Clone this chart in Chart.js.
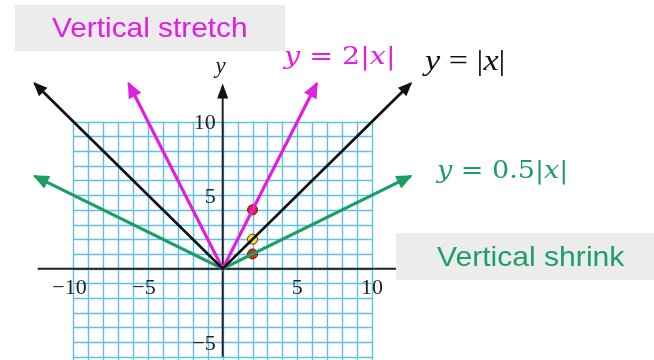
<!DOCTYPE html>
<html>
<head>
<meta charset="utf-8">
<script src="https://cdn.jsdelivr.net/npm/chart.js@4"></script>
<style>
  html, body { margin: 0; padding: 0; background: #fff; }
  #wrap { width: 654px; height: 360px; }
</style>
</head>
<body>
<div id="wrap"><canvas id="graph" width="654" height="360"></canvas></div>
<script>
// y = |x|
var absX = [-12.6, 0, 12.6];
var absY = [12.6, 0, 12.6];
// y = 2|x|
var stretchX = [-6.3, 0, 6.3];
var stretchY = [12.6, 0, 12.6];
// y = 0.5|x|
var shrinkX = [-12.6, 0, 12.6];
var shrinkY = [6.3, 0, 6.3];
// marked points at x = 2
var dotX = [2, 2, 2];
var dotY = [4, 2, 1];
var dotColors = ["#e3221b", "#f2ee1e", "#e3221b"];

// grid paper and axes
var gridMin = -10, gridMax = 10;
var xAxisRange = [-12.4, 12];
var yAxisRange = [-6, 12.6];
var xTicks = [-10, -5, 5, 10];
var yTicks = [10, 5, -5];

function pts(xs, ys) {
  return xs.map(function (x, i) { return { x: x, y: ys[i] }; });
}

// grid, axes and tick labels go under the lines
var paperPlugin = {
  id: 'paper',
  beforeDatasetsDraw: function (chart) {
    var ctx = chart.ctx, sx = chart.scales.x, sy = chart.scales.y;
    ctx.save();
    ctx.strokeStyle = "#62c0e5";
    ctx.lineWidth = 1.4;
    for (var i = gridMin; i <= gridMax; i++) {
      var px = Math.round(sx.getPixelForValue(i)) + 0.5;
      ctx.beginPath();
      ctx.moveTo(px, sy.getPixelForValue(gridMax));
      ctx.lineTo(px, sy.getPixelForValue(gridMin));
      ctx.stroke();
      var py = Math.round(sy.getPixelForValue(i)) + 0.5;
      ctx.beginPath();
      ctx.moveTo(sx.getPixelForValue(gridMin), py);
      ctx.lineTo(sx.getPixelForValue(gridMax), py);
      ctx.stroke();
    }
    // axes
    var ox = sx.getPixelForValue(0), oy = sy.getPixelForValue(0);
    ctx.strokeStyle = "#222";
    ctx.lineWidth = 2;
    ctx.beginPath();
    ctx.moveTo(sx.getPixelForValue(xAxisRange[0]), oy);
    ctx.lineTo(sx.getPixelForValue(xAxisRange[1]), oy);
    ctx.moveTo(ox, sy.getPixelForValue(yAxisRange[0]));
    ctx.lineTo(ox, sy.getPixelForValue(yAxisRange[1]) + 10);
    ctx.stroke();
    var tip = sy.getPixelForValue(yAxisRange[1]);
    ctx.fillStyle = "#111";
    ctx.beginPath();
    ctx.moveTo(ox, tip);
    ctx.lineTo(ox - 5.5, tip + 15);
    ctx.lineTo(ox + 5.5, tip + 15);
    ctx.closePath();
    ctx.fill();
    // tick labels
    ctx.font = "22px 'Liberation Serif'";
    ctx.fillStyle = "#222";
    ctx.textBaseline = "middle";
    ctx.textAlign = "center";
    xTicks.forEach(function (v) {
      var t = (v < 0 ? "\u2212" : "") + Math.abs(v);
      ctx.fillText(t, sx.getPixelForValue(v) - (v < 0 ? 4 : 0), oy + 20);
    });
    ctx.textAlign = "right";
    yTicks.forEach(function (v) {
      var t = (v < 0 ? "\u2212" : "") + Math.abs(v);
      ctx.fillText(t, ox - 7, sy.getPixelForValue(v) + 2);
    });
    // axis name
    ctx.font = "italic 23px 'Liberation Serif'";
    ctx.textAlign = "center";
    ctx.fillText("y", ox - 2, tip - 17);
    ctx.restore();
  }
};

// arrowheads at both ends of each V
var arrowPlugin = {
  id: 'arrows',
  afterDatasetsDraw: function (chart) {
    var ctx = chart.ctx;
    chart.data.datasets.forEach(function (ds, di) {
      if (!ds.arrow) return;
      var els = chart.getDatasetMeta(di).data;
      [[1, 0], [1, 2]].forEach(function (pair) {
        var a = els[pair[0]], b = els[pair[1]];
        var ang = Math.atan2(b.y - a.y, b.x - a.x);
        var len = ds.arrow, wid = ds.arrow * 0.5;
        ctx.save();
        ctx.translate(b.x, b.y);
        ctx.rotate(ang);
        ctx.fillStyle = ds.borderColor;
        ctx.beginPath();
        ctx.moveTo(2, 0);
        ctx.lineTo(-len, -wid);
        ctx.lineTo(-len, wid);
        ctx.closePath();
        ctx.fill();
        ctx.restore();
      });
    });
  }
};

// math label: italic letters, upright rest, stretched sideways by sx
function runs(ctx, x, y, parts, color, font, sx) {
  ctx.save();
  ctx.translate(x, y);
  ctx.scale(sx, 1);
  ctx.fillStyle = color;
  var cx = 0;
  parts.forEach(function (p) {
    ctx.font = (p[1] ? "italic " : "") + font;
    ctx.fillText(p[0], cx, 0);
    cx += ctx.measureText(p[0]).width;
  });
  ctx.restore();
}

function wideText(ctx, text, x, y, sx) {
  ctx.save();
  ctx.translate(x, y);
  ctx.scale(sx, 1);
  ctx.fillText(text, 0, 0);
  ctx.restore();
}

// labels and grey boxes on top
var notesPlugin = {
  id: 'notes',
  afterDraw: function (chart) {
    var ctx = chart.ctx;
    ctx.save();
    ctx.fillStyle = "#ececec";
    ctx.fillRect(15, 5, 270, 46);
    ctx.fillRect(396, 233, 258, 47);
    ctx.textBaseline = "middle";
    ctx.textAlign = "left";
    ctx.font = "28px 'Liberation Sans'";
    ctx.fillStyle = "#e21ee2";
    wideText(ctx, "Vertical stretch", 52, 29, 1.065);
    ctx.fillStyle = "#1c9e66";
    wideText(ctx, "Vertical shrink", 437, 258, 1.075);
    runs(ctx, 284, 57, [["y", true], [" = 2|", false], ["x", true], ["|", false]], "#e21ee2", "25px 'DejaVu Serif'", 1.14);
    runs(ctx, 425, 62, [["y", true], [" = |", false], ["x", true], ["|", false]], "#111", "30px 'Liberation Serif'", 1.14);
    runs(ctx, 437, 171, [["y", true], [" = 0.5|", false], ["x", true], ["|", false]], "#1c9e66", "25px 'DejaVu Serif'", 1.08);
    ctx.restore();
  }
};

new Chart(document.getElementById('graph'), {
  type: 'scatter',
  data: {
    datasets: [
      { data: pts(absX, absY), showLine: true, borderColor: "#111", borderWidth: 2.8, pointRadius: 0, arrow: 12 },
      { data: pts(stretchX, stretchY), showLine: true, borderColor: "#e21ee2", borderWidth: 3.2, pointRadius: 0, arrow: 14 },
      { data: pts(shrinkX, shrinkY), showLine: true, borderColor: "#1c9e66", borderWidth: 3.2, pointRadius: 0, arrow: 14 },
      { data: pts(dotX, dotY), showLine: false, backgroundColor: dotColors, borderColor: "#6a1a10", borderWidth: 1, pointRadius: 5 }
    ]
  },
  options: {
    responsive: false,
    animation: false,
    layout: { padding: 0 },
    plugins: { legend: { display: false }, tooltip: { enabled: false } },
    scales: {
      x: { type: 'linear', min: -14.52, max: 28.5, display: false },
      y: { type: 'linear', min: -5.81, max: 17.875, display: false }
    }
  },
  plugins: [paperPlugin, arrowPlugin, notesPlugin]
});
</script>
</body>
</html>
